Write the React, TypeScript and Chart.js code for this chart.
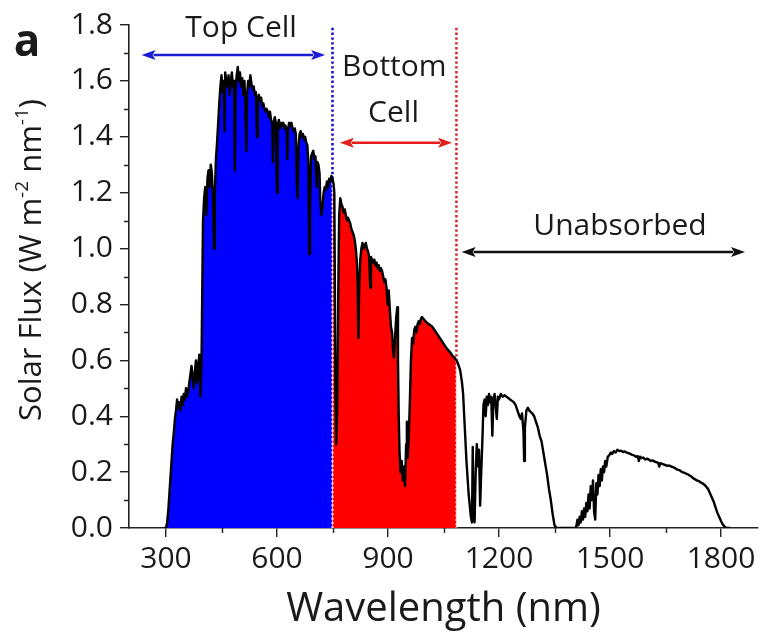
import React, { useEffect, useRef } from "react";
import { Chart, registerables } from "chart.js";

Chart.register(...registerables);

// AM1.5 solar flux: [wavelength nm, flux W m^-2 nm^-1]
const spectrum: [number, number][] = [
  [295, 0], [300, 0], [303, 0.02], [306, 0.06], [309, 0.12], [312, 0.18], [315, 0.24], [318, 0.3],
  [321, 0.34], [324, 0.39], [327, 0.42], [330, 0.46], [333, 0.43], [336, 0.45], [339, 0.42], [342, 0.47],
  [345, 0.44], [348, 0.48], [351, 0.46], [354, 0.5], [357, 0.47], [360, 0.49], [363, 0.52], [366, 0.55],
  [369, 0.58], [372, 0.54], [375, 0.5], [378, 0.56], [381, 0.6], [384, 0.52], [387, 0.58], [390, 0.62],
  [393, 0.47], [396, 0.6], [398, 0.85], [400, 1.1], [403, 1.18], [406, 1.22], [409, 1.12], [412, 1.25],
  [415, 1.28], [418, 1.22], [421, 1.3], [424, 1.27], [427, 1.18], [430, 1.0], [432, 1.2], [435, 1.32],
  [438, 1.38], [441, 1.45], [444, 1.52], [447, 1.58], [450, 1.62], [453, 1.56], [456, 1.6], [458, 1.42],
  [460, 1.63], [463, 1.6], [466, 1.58], [469, 1.62], [472, 1.55], [475, 1.6], [478, 1.63], [481, 1.58],
  [484, 1.6], [486, 1.28], [488, 1.55], [491, 1.62], [494, 1.65], [497, 1.6], [500, 1.63], [503, 1.58],
  [506, 1.61], [509, 1.55], [512, 1.6], [515, 1.5], [517, 1.35], [519, 1.55], [522, 1.6], [525, 1.58],
  [528, 1.62], [531, 1.59], [534, 1.57], [537, 1.58], [540, 1.55], [543, 1.56], [546, 1.4], [548, 1.54],
  [551, 1.55], [554, 1.53], [557, 1.54], [560, 1.51], [563, 1.52], [566, 1.5], [569, 1.49], [572, 1.5],
  [575, 1.49], [578, 1.47], [581, 1.49], [584, 1.46], [587, 1.45], [589, 1.31], [591, 1.45], [594, 1.47],
  [597, 1.45], [600, 1.2], [602, 1.44], [605, 1.46], [608, 1.43], [611, 1.45], [614, 1.44], [617, 1.45],
  [620, 1.43], [623, 1.44], [626, 1.42], [628, 1.32], [630, 1.43], [633, 1.45], [636, 1.44], [639, 1.45],
  [642, 1.43], [645, 1.42], [648, 1.43], [651, 1.41], [654, 1.22], [656, 1.18], [658, 1.36], [661, 1.41],
  [664, 1.42], [667, 1.4], [670, 1.41], [673, 1.39], [676, 1.4], [679, 1.38], [682, 1.37], [685, 1.3],
  [687, 0.98], [689, 1.12], [692, 1.33], [695, 1.34], [698, 1.35], [701, 1.32], [704, 1.33], [707, 1.22],
  [709, 1.31], [712, 1.3], [715, 1.27], [717, 1.17], [720, 1.12], [723, 1.15], [726, 1.2], [729, 1.22],
  [732, 1.21], [735, 1.24], [738, 1.22], [741, 1.25], [744, 1.24], [747, 1.26], [750, 1.25], [753, 1.23],
  [755, 1.2], [758, 0.5], [760, 0.3], [763, 0.45], [766, 0.9], [768, 1.12], [771, 1.18], [774, 1.16],
  [777, 1.15], [780, 1.13], [783, 1.14], [786, 1.12], [789, 1.1], [792, 1.11], [795, 1.1], [798, 1.09],
  [801, 1.07], [804, 1.06], [807, 1.05], [810, 1.03], [813, 1.0], [816, 0.95], [818, 0.88], [820, 0.68],
  [822, 0.85], [825, 0.96], [828, 1.0], [831, 1.02], [834, 1.0], [837, 1.01], [840, 1.02], [843, 1.0],
  [846, 0.99], [849, 0.97], [852, 0.86], [854, 0.97], [857, 0.96], [860, 0.95], [863, 0.96], [866, 0.94],
  [869, 0.95], [872, 0.93], [875, 0.94], [878, 0.92], [881, 0.93], [884, 0.92], [887, 0.9], [890, 0.88],
  [893, 0.89], [896, 0.86], [899, 0.8], [902, 0.85], [905, 0.78], [908, 0.72], [911, 0.7], [914, 0.63],
  [916, 0.61], [919, 0.68], [922, 0.75], [925, 0.79], [927, 0.6], [929, 0.4], [931, 0.28], [934, 0.2],
  [937, 0.24], [940, 0.17], [943, 0.22], [946, 0.15], [949, 0.3], [951, 0.38], [953, 0.25], [956, 0.32],
  [959, 0.45], [962, 0.6], [965, 0.68], [968, 0.66], [971, 0.71], [974, 0.72], [977, 0.7], [980, 0.73],
  [983, 0.74], [986, 0.73], [989, 0.75], [992, 0.755], [995, 0.75], [998, 0.745], [1001, 0.74], [1005, 0.735],
  [1010, 0.73], [1015, 0.725], [1020, 0.72], [1025, 0.71], [1030, 0.7], [1035, 0.69], [1040, 0.68], [1045, 0.67],
  [1050, 0.66], [1055, 0.65], [1060, 0.64], [1065, 0.633], [1070, 0.625], [1075, 0.615], [1080, 0.61], [1085, 0.6],
  [1090, 0.585], [1095, 0.565], [1100, 0.52], [1103, 0.48], [1106, 0.4], [1109, 0.32], [1112, 0.24], [1115, 0.18],
  [1118, 0.12], [1121, 0.08], [1124, 0.04], [1127, 0.02], [1129, 0.29], [1131, 0.05], [1134, 0.02], [1137, 0.2],
  [1140, 0.3], [1143, 0.22], [1146, 0.28], [1149, 0.08], [1152, 0.2], [1155, 0.31], [1158, 0.44], [1161, 0.46],
  [1164, 0.4], [1167, 0.47], [1170, 0.44], [1173, 0.48], [1176, 0.45], [1179, 0.47], [1182, 0.33], [1185, 0.46],
  [1188, 0.48], [1191, 0.44], [1194, 0.39], [1197, 0.47], [1200, 0.46], [1205, 0.48], [1210, 0.47], [1215, 0.475],
  [1220, 0.47], [1225, 0.465], [1230, 0.46], [1235, 0.455], [1240, 0.45], [1245, 0.44], [1250, 0.42], [1255, 0.4],
  [1259, 0.39], [1262, 0.41], [1266, 0.35], [1268, 0.24], [1270, 0.36], [1274, 0.42], [1278, 0.43], [1282, 0.42],
  [1286, 0.415], [1290, 0.41], [1295, 0.4], [1300, 0.38], [1305, 0.36], [1310, 0.33], [1315, 0.31], [1320, 0.27],
  [1325, 0.23], [1330, 0.19], [1335, 0.14], [1340, 0.1], [1345, 0.05], [1350, 0.01], [1355, 0], [1400, 0],
  [1408, 0], [1412, 0.03], [1415, 0.01], [1418, 0.04], [1421, 0.02], [1424, 0.06], [1427, 0.03], [1430, 0.07],
  [1433, 0.04], [1436, 0.09], [1439, 0.06], [1442, 0.12], [1445, 0.07], [1448, 0.15], [1451, 0.1], [1454, 0.17],
  [1457, 0.06], [1460, 0.03], [1463, 0.16], [1466, 0.12], [1469, 0.19], [1472, 0.15], [1475, 0.21], [1478, 0.17],
  [1481, 0.22], [1484, 0.2], [1487, 0.24], [1490, 0.22], [1494, 0.255], [1498, 0.26], [1502, 0.27], [1506, 0.265],
  [1510, 0.275], [1515, 0.27], [1520, 0.28], [1525, 0.275], [1530, 0.277], [1535, 0.272], [1540, 0.274], [1545, 0.27],
  [1550, 0.268], [1555, 0.265], [1560, 0.262], [1565, 0.26], [1570, 0.255], [1575, 0.257], [1578, 0.24], [1581, 0.255],
  [1585, 0.25], [1590, 0.252], [1595, 0.245], [1600, 0.248], [1605, 0.245], [1610, 0.24], [1615, 0.242], [1620, 0.238],
  [1625, 0.236], [1630, 0.233], [1633, 0.22], [1636, 0.232], [1640, 0.23], [1645, 0.228], [1650, 0.225], [1655, 0.222],
  [1660, 0.224], [1665, 0.22], [1670, 0.218], [1675, 0.215], [1680, 0.21], [1685, 0.208], [1690, 0.205], [1695, 0.2],
  [1700, 0.198], [1705, 0.195], [1710, 0.192], [1715, 0.188], [1720, 0.184], [1725, 0.178], [1730, 0.174], [1735, 0.17],
  [1740, 0.168], [1745, 0.163], [1750, 0.16], [1755, 0.155], [1760, 0.148], [1765, 0.14], [1770, 0.125], [1775, 0.11],
  [1780, 0.095], [1785, 0.075], [1790, 0.055], [1795, 0.04], [1800, 0.025], [1805, 0.012], [1810, 0.005], [1815, 0],
  [1825, 0],
];

const topCellEdge = 750;
const bottomCellEdge = 1085;
const guideTop = 1.79;

const xMajorTicks = [300, 600, 900, 1200, 1500, 1800];
const xMinorTicks = [450, 750, 1050, 1350, 1650];
const yMajorTicks = [0, 0.2, 0.4, 0.6, 0.8, 1.0, 1.2, 1.4, 1.6, 1.8];
const yMinorTicks = [0.1, 0.3, 0.5, 0.7, 0.9, 1.1, 1.3, 1.5, 1.7];

const arrowSpans = [
  { from: 234, to: 730, at: 1.693, color: "#1c1cd8" },
  { from: 770, to: 1073, at: 1.379, color: "#e41c1c" },
  { from: 1099, to: 1865, at: 0.988, color: "#111111" },
];

const regionLabels = [
  { text: "Top Cell", x: 503, y: 1.786 },
  { text: "Bottom", x: 917, y: 1.647 },
  { text: "Cell", x: 915, y: 1.483 },
  { text: "Unabsorbed", x: 1527, y: 1.08 },
];

const FONT = "'Open Sans', 'Noto Sans', sans-serif";
const INK = "#1a1a1a";

const fluxAt = (nm: number) => {
  const p = spectrum.find((q) => q[0] === nm);
  return p ? p[1] : 0;
};
const toXY = (arr: [number, number][]) => arr.map(([x, y]) => ({ x, y }));

const decorPlugin = {
  id: "decor",
  afterDraw(chart: any) {
    const ctx: CanvasRenderingContext2D = chart.ctx;
    const xs = chart.scales.x;
    const ys = chart.scales.y;
    const area = chart.chartArea;
    ctx.save();

    // minor ticks
    ctx.strokeStyle = "#222";
    ctx.lineWidth = 1.4;
    ctx.beginPath();
    xMinorTicks.forEach((v) => {
      const px = Math.round(xs.getPixelForValue(v)) + 0.5;
      ctx.moveTo(px, area.bottom);
      ctx.lineTo(px, area.bottom + 5);
    });
    yMinorTicks.forEach((v) => {
      const py = Math.round(ys.getPixelForValue(v)) + 0.5;
      ctx.moveTo(area.left, py);
      ctx.lineTo(area.left - 5, py);
    });
    ctx.stroke();

    // arrows
    arrowSpans.forEach((a) => {
      const x1 = xs.getPixelForValue(a.from);
      const x2 = xs.getPixelForValue(a.to);
      const y = ys.getPixelForValue(a.at);
      const head = 14;
      const half = 5;
      ctx.strokeStyle = a.color;
      ctx.fillStyle = a.color;
      ctx.lineWidth = 2.5;
      ctx.beginPath();
      ctx.moveTo(x1 + head - 2, y);
      ctx.lineTo(x2 - head + 2, y);
      ctx.stroke();
      ctx.beginPath();
      ctx.moveTo(x1, y);
      ctx.lineTo(x1 + head, y - half);
      ctx.lineTo(x1 + head - 3, y);
      ctx.lineTo(x1 + head, y + half);
      ctx.closePath();
      ctx.fill();
      ctx.beginPath();
      ctx.moveTo(x2, y);
      ctx.lineTo(x2 - head, y - half);
      ctx.lineTo(x2 - head + 3, y);
      ctx.lineTo(x2 - head, y + half);
      ctx.closePath();
      ctx.fill();
    });

    // region labels
    ctx.fillStyle = INK;
    ctx.font = `30px ${FONT}`;
    ctx.textAlign = "center";
    ctx.textBaseline = "middle";
    regionLabels.forEach((l) => {
      ctx.fillText(l.text, xs.getPixelForValue(l.x), ys.getPixelForValue(l.y));
    });

    // panel letter
    ctx.font = `bold 44px ${FONT}`;
    ctx.textBaseline = "alphabetic";
    ctx.fillText("a", 27, 56);

    // x title
    ctx.font = `40px ${FONT}`;
    ctx.fillText("Wavelength (nm)", (area.left + area.right) / 2, 621);

    // y title with superscripts
    const size = 31;
    const supSize = 19;
    const parts = [
      { t: "Solar Flux (W m", sup: false },
      { t: "-2", sup: true },
      { t: " nm", sup: false },
      { t: "-1", sup: true },
      { t: ")", sup: false },
    ];
    let total = 0;
    parts.forEach((p) => {
      ctx.font = `${p.sup ? supSize : size}px ${FONT}`;
      total += ctx.measureText(p.t).width;
    });
    ctx.translate(41, 260);
    ctx.rotate(-Math.PI / 2);
    ctx.textAlign = "left";
    let cx = -total / 2;
    parts.forEach((p) => {
      ctx.font = `${p.sup ? supSize : size}px ${FONT}`;
      ctx.fillText(p.t, cx, p.sup ? -13 : 0);
      cx += ctx.measureText(p.t).width;
    });
    ctx.restore();
  },
};

export default function App() {
  const ref = useRef<HTMLCanvasElement | null>(null);

  useEffect(() => {
    if (!ref.current) return;
    const topFill = toXY(spectrum.filter(([nm]) => nm <= topCellEdge));
    const bottomFill = toXY(spectrum.filter(([nm]) => nm >= topCellEdge && nm <= bottomCellEdge));
    const line = toXY(spectrum);

    const chart = new Chart(ref.current, {
      type: "line",
      data: {
        datasets: [
          {
            data: line,
            borderColor: "#000",
            borderWidth: 2.4,
            borderJoinStyle: "round",
            pointRadius: 0,
            fill: false,
            tension: 0,
            order: 0,
          } as any,
          {
            data: [{ x: topCellEdge, y: fluxAt(topCellEdge) }, { x: topCellEdge, y: 0 }],
            borderColor: "rgba(255,235,240,0.9)",
            borderWidth: 2.2,
            borderDash: [2.2, 2.2],
            pointRadius: 0,
            fill: false,
            order: 1,
          },
          {
            data: [{ x: bottomCellEdge, y: fluxAt(bottomCellEdge) }, { x: bottomCellEdge, y: 0 }],
            borderColor: "rgba(255,235,240,0.9)",
            borderWidth: 2.2,
            borderDash: [2.2, 2.2],
            pointRadius: 0,
            fill: false,
            order: 1,
          },
          {
            data: [{ x: topCellEdge, y: guideTop }, { x: topCellEdge, y: fluxAt(topCellEdge) }],
            borderColor: "#1515c8",
            borderWidth: 2.6,
            borderDash: [2.4, 2.4],
            pointRadius: 0,
            fill: false,
            order: 2,
          },
          {
            data: [{ x: bottomCellEdge, y: guideTop }, { x: bottomCellEdge, y: fluxAt(bottomCellEdge) }],
            borderColor: "#d42a2a",
            borderWidth: 2.6,
            borderDash: [2.4, 2.4],
            pointRadius: 0,
            fill: false,
            order: 2,
          },
          {
            data: bottomFill,
            borderWidth: 0,
            borderColor: "rgba(0,0,0,0)",
            backgroundColor: "#ff0000",
            pointRadius: 0,
            fill: "origin",
            order: 3,
          },
          {
            data: topFill,
            borderWidth: 0,
            borderColor: "rgba(0,0,0,0)",
            backgroundColor: "#0000ff",
            pointRadius: 0,
            fill: "origin",
            order: 4,
          },
        ],
      },
      options: {
        responsive: false,
        animation: false,
        events: [],
        layout: { padding: { top: 23, right: 14, left: 0, bottom: 0 } },
        plugins: { legend: { display: false }, tooltip: { enabled: false } },
        scales: {
          x: {
            type: "linear",
            min: 200,
            max: 1900,
            afterBuildTicks: (s: any) => {
              s.ticks = xMajorTicks.map((v) => ({ value: v }));
            },
            afterFit: (s: any) => {
              s.height = 113;
            },
            grid: { drawOnChartArea: false, drawTicks: true, tickLength: 9, color: "#222", lineWidth: 1.4 },
            border: { display: true, color: "#222", width: 1.6 },
            ticks: {
              font: { family: FONT, size: 30 },
              color: INK,
              padding: 4,
              maxRotation: 0,
              autoSkip: false,
              callback: (v: any) => String(v),
            },
          },
          y: {
            type: "linear",
            min: 0,
            max: 1.8,
            afterBuildTicks: (s: any) => {
              s.ticks = yMajorTicks.map((v) => ({ value: v }));
            },
            afterFit: (s: any) => {
              s.width = 129;
            },
            grid: { drawOnChartArea: false, drawTicks: true, tickLength: 9, color: "#222", lineWidth: 1.4 },
            border: { display: true, color: "#222", width: 1.6 },
            ticks: {
              font: { family: FONT, size: 30 },
              color: INK,
              padding: 7,
              autoSkip: false,
              callback: (v: any) => Number(v).toFixed(1),
            },
          },
        },
      },
      plugins: [decorPlugin],
    });
    return () => chart.destroy();
  }, []);

  return (
    <div style={{ position: "fixed", left: 0, top: 0, width: 772, height: 641, background: "#fff" }}>
      <canvas ref={ref} width={772} height={641} style={{ display: "block" }} />
    </div>
  );
}
